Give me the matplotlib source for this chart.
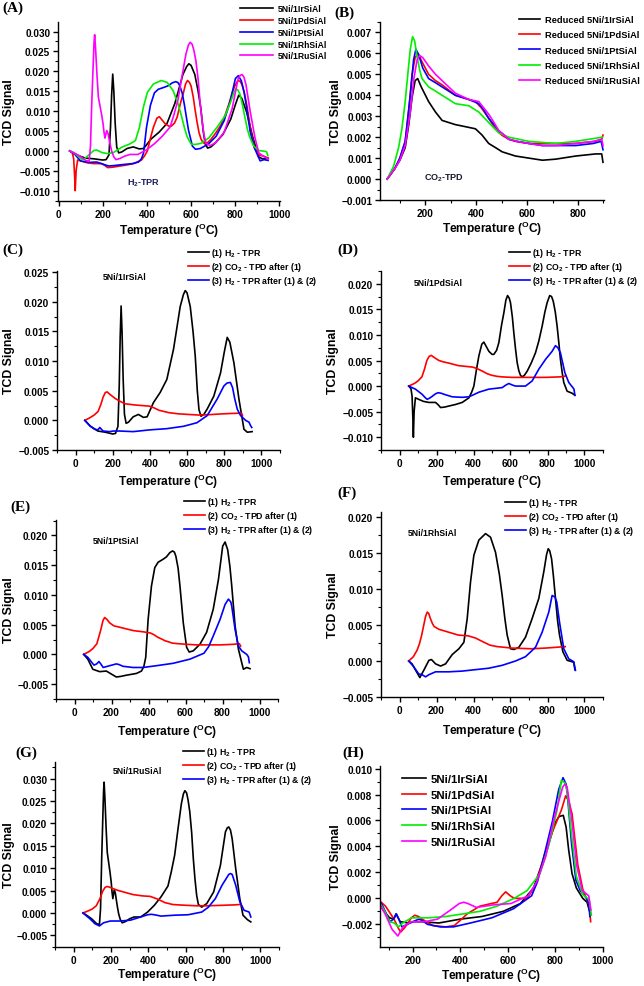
import matplotlib
matplotlib.use('Agg')
import matplotlib.pyplot as plt
from matplotlib.ticker import MultipleLocator, AutoMinorLocator, FuncFormatter

plt.rcParams['font.family'] = ['Liberation Sans', 'DejaVu Sans']
plt.rcParams['font.weight'] = 'bold'
plt.rcParams['mathtext.fontset'] = 'custom'
plt.rcParams['mathtext.rm'] = 'Liberation Sans:bold'
plt.rcParams['mathtext.bf'] = 'Liberation Sans:bold'
plt.rcParams['mathtext.it'] = 'Liberation Sans:bold'

# ---------------- data ----------------
samples = ['5Ni/1IrSiAl', '5Ni/1PdSiAl', '5Ni/1PtSiAl', '5Ni/1RhSiAl', '5Ni/1RuSiAl']
sample_colors = ['#000000', '#ff0000', '#0000ff', '#00ee00', '#ff00ff']

# (1) H2-TPR of fresh catalysts
tpr_ir_T = [50, 80, 120, 160, 200, 215, 228, 235, 240, 245, 250, 256, 263, 272, 285, 310, 338, 365, 385,
            419, 455, 491, 527, 563, 580, 590, 600, 617, 632, 644, 655, 664, 675, 690, 708, 744, 780, 800,
            816, 830, 852, 879, 906, 924, 950]
tpr_ir_s = [0, -0.001, -0.0018, -0.002, -0.0023, -0.0022, -0.001, 0.006, 0.014, 0.0193, 0.015, 0.007, 0.001,
            -0.0005, -0.0003, 0.0006, 0.001, 0.0005, 0.0006, 0.003, 0.0047, 0.0069, 0.012, 0.0192, 0.0212,
            0.0219, 0.0215, 0.0192, 0.015, 0.0108, 0.005, 0.0018, 0.0007, 0.001, 0.0019, 0.0041, 0.008,
            0.0115, 0.014, 0.0132, 0.0097, 0.0036, -0.0015, -0.002, -0.0019]

tpr_pd_T = [50, 62, 68, 72, 75, 79, 86, 104, 130, 159, 195, 210, 222, 245, 267, 303, 339, 375, 390, 402, 415,
            429, 445, 456, 468, 483, 500, 510, 525, 537, 552, 564, 575, 584, 593, 600, 610, 618, 627, 636, 645,
            654, 663, 675, 690, 712, 735, 753, 771, 786, 798, 812, 822, 831, 842, 852, 862, 870, 880, 888, 906,
            933, 948]
tpr_pd_s = [0, -0.0005, -0.002, -0.006, -0.010, -0.005, -0.0023, -0.0026, -0.003, -0.0032, -0.0032, -0.0037,
            -0.0042, -0.0041, -0.0039, -0.0036, -0.0032, -0.0023, -0.0012, 0.0, 0.003, 0.0059, 0.0082, 0.0086,
            0.0078, 0.0068, 0.0062, 0.0062, 0.007, 0.0085, 0.012, 0.0143, 0.0168, 0.0177, 0.0172, 0.0163,
            0.0135, 0.0104, 0.0073, 0.0046, 0.003, 0.0021, 0.0018, 0.0021, 0.0029, 0.0045, 0.0065, 0.0088,
            0.0117, 0.0145, 0.0163, 0.0177, 0.0175, 0.0166, 0.0145, 0.0117, 0.0082, 0.0052, 0.0025, 0.0007,
            -0.001, -0.0014, -0.0018]

tpr_pt_T = [50, 72, 99, 136, 172, 199, 226, 250, 280, 335, 362, 375, 385, 390, 398, 416, 434, 452, 479, 497,
            515, 530, 540, 548, 560, 570, 588, 606, 620, 642, 678, 714, 750, 778, 801, 814, 828, 840, 850, 868,
            886, 904, 913, 931, 949]
tpr_pt_s = [0, -0.0008, -0.0025, -0.0029, -0.0028, -0.0033, -0.0038, -0.0037, -0.0035, -0.0032, -0.0028,
            -0.002, -0.0005, 0.002, 0.0059, 0.0115, 0.0146, 0.0155, 0.016, 0.0164, 0.0171, 0.0174, 0.0172,
            0.0165, 0.0145, 0.0115, 0.0053, 0.0012, 0.0004, 0.0006, 0.0017, 0.0037, 0.0076, 0.0126, 0.0182,
            0.0189, 0.0176, 0.0148, 0.0115, 0.0048, 0.0009, -0.0014, -0.0025, -0.0022, -0.0024]

tpr_rh_T = [50, 68, 92, 110, 131, 159, 173, 195, 222, 249, 285, 321, 348, 366, 384, 402, 429, 465, 492, 519,
            540, 555, 570, 582, 600, 618, 645, 681, 717, 753, 780, 795, 804, 812, 822, 832, 843, 855, 865, 883,
            906, 933, 942, 948]
tpr_rh_s = [0, -0.0004, -0.0015, -0.0023, -0.0013, 0.0001, 0.0002, -0.0004, -0.0007, -0.0004, 0.0009, 0.0017,
            0.0026, 0.0059, 0.011, 0.0147, 0.0168, 0.0177, 0.0172, 0.0151, 0.012, 0.0091, 0.0058, 0.0036,
            0.0017, 0.0016, 0.0019, 0.0033, 0.0059, 0.0087, 0.0124, 0.0148, 0.0156, 0.0153, 0.0142, 0.0118,
            0.0087, 0.0055, 0.0036, 0.0013, 0.0001, -0.0001, -0.0002, -0.0012]

tpr_ru_T = [50, 69, 96, 123, 138, 144, 150, 156, 160, 163, 167, 174, 180, 187, 195, 201, 206, 210, 215, 218,
            223, 229, 235, 241, 250, 260, 278, 300, 323, 359, 396, 432, 468, 505, 523, 541, 559, 577, 588, 596,
            605, 613, 622, 632, 641, 650, 659, 668, 686, 713, 750, 786, 813, 823, 831, 840, 849, 868, 890, 907,
            931, 949]
tpr_ru_s = [0, -0.0005, -0.0013, -0.0024, -0.0026, 0.001, 0.012, 0.021, 0.027, 0.0292, 0.026, 0.0188, 0.0135,
            0.0114, 0.009, 0.0069, 0.0045, 0.0032, 0.0045, 0.0051, 0.0045, 0.0028, 0.0012, -0.0002, -0.0015,
            -0.0022, -0.0019, -0.0013, -0.0009, -0.0009, 0.0002, 0.0017, 0.0036, 0.006, 0.0092, 0.0129, 0.0188,
            0.0244, 0.0266, 0.0273, 0.0268, 0.0252, 0.0226, 0.018, 0.0121, 0.0075, 0.0039, 0.0019, 0.0013,
            0.0021, 0.0047, 0.0106, 0.0181, 0.019, 0.0192, 0.0185, 0.0166, 0.0099, 0.0032, -0.0005, -0.0015,
            -0.002]

# (2) CO2-TPD after (1)
co2_ir_T = [50, 80, 100, 121, 135, 148, 160, 170, 184, 213, 240, 266, 318, 358, 397, 423, 449, 476, 502, 554,
            607, 660, 712, 791, 869, 893, 898]
co2_ir_s = [0, 0.0005, 0.0009, 0.0015, 0.0026, 0.0039, 0.0047, 0.0048, 0.0044, 0.0037, 0.0032, 0.0028, 0.0026,
            0.0025, 0.0024, 0.0021, 0.0017, 0.0015, 0.0013, 0.0011, 0.001, 0.0009, 0.00095, 0.0011, 0.0012,
            0.0012, 0.0008]

co2_pd_T = [50, 80, 100, 121, 135, 148, 160, 172, 187, 213, 240, 266, 318, 371, 397, 420, 449, 475, 500, 528,
            554, 607, 660, 712, 791, 869, 893, 898]
co2_pd_s = [0, 0.0005, 0.001, 0.0018, 0.0033, 0.005, 0.0058, 0.006, 0.0056, 0.005, 0.0047, 0.0045, 0.004,
            0.0038, 0.0037, 0.0034, 0.0029, 0.0024, 0.0021, 0.0019, 0.0018, 0.0017, 0.0017, 0.0017, 0.0017,
            0.0018, 0.0019, 0.0021]

co2_pt_T = [50, 80, 100, 121, 141, 154, 163, 175, 190, 213, 240, 266, 318, 371, 410, 430, 449, 470, 489, 510,
            528, 560, 607, 660, 712, 791, 860, 891, 898]
co2_pt_s = [0, 0.0005, 0.001, 0.0018, 0.004, 0.0057, 0.0062, 0.0059, 0.0053, 0.0048, 0.0046, 0.0044, 0.004,
            0.0038, 0.0036, 0.0033, 0.0029, 0.0026, 0.0023, 0.0021, 0.0019, 0.0018, 0.0017, 0.0016, 0.0016,
            0.0016, 0.0017, 0.0018, 0.0014]

co2_rh_T = [50, 75, 95, 108, 120, 128, 141, 150, 158, 167, 178, 187, 213, 240, 266, 318, 371, 410, 449, 489,
            528, 607, 712, 791, 896]
co2_rh_s = [0, 0.0006, 0.0015, 0.0024, 0.0036, 0.0046, 0.0062, 0.0068, 0.0066, 0.0059, 0.0052, 0.0048, 0.0044,
            0.0042, 0.004, 0.0036, 0.0035, 0.0032, 0.0027, 0.0022, 0.002, 0.0018, 0.0017, 0.0018, 0.002]

co2_ru_T = [50, 80, 100, 121, 141, 155, 168, 178, 190, 213, 240, 266, 318, 371, 410, 449, 470, 489, 510, 528,
            560, 607, 660, 712, 791, 860, 893, 898]
co2_ru_s = [0, 0.0005, 0.0009, 0.0016, 0.0032, 0.0048, 0.0057, 0.0059, 0.0058, 0.0054, 0.005, 0.0047, 0.0041,
            0.0038, 0.0037, 0.0031, 0.0027, 0.0023, 0.0021, 0.0019, 0.0018, 0.0017, 0.0016, 0.0016, 0.0017,
            0.0018, 0.0019, 0.0016]

# (3) H2-TPR after (1) & (2)
rtpr_ir_T = [50, 76, 103, 121, 130, 148, 184, 202, 238, 310, 401, 491, 581, 653, 708, 762, 798, 815, 833, 845,
             856, 870, 888, 915, 933, 942, 948]
rtpr_ir_s = [0, -0.0009, -0.0015, -0.0016, -0.0012, -0.0018, -0.0019, -0.0018, -0.0018, -0.0019, -0.0016,
             -0.0014, -0.001, -0.0004, 0.0008, 0.0036, 0.0058, 0.0063, 0.0064, 0.0055, 0.0037, 0.0019, 0.0008,
             0.0, -0.0003, -0.0009, -0.0012]

rtpr_pd_T = [50, 86, 122, 140, 150, 165, 177, 195, 209, 225, 240, 285, 339, 375, 400, 429, 483, 555, 575, 591,
             610, 627, 681, 717, 753, 789, 825, 843, 856, 870, 894, 915, 937, 943, 948]
rtpr_pd_s = [0, -0.0006, -0.0016, -0.0023, -0.0026, -0.0023, -0.002, -0.0015, -0.0013, -0.0014, -0.0016,
             -0.0021, -0.0022, -0.0021, -0.0017, -0.0012, -0.0006, -0.0003, 0.0002, 0.0005, 0.0002, 0.0, 0.0,
             0.001, 0.0033, 0.0052, 0.0068, 0.0079, 0.0075, 0.0065, 0.0026, 0.0007, -0.0003, -0.0006, -0.0018]

rtpr_pt_T = [50, 72, 105, 120, 132, 142, 155, 190, 226, 240, 262, 316, 371, 443, 533, 624, 700, 725, 750, 787,
             814, 832, 845, 850, 868, 886, 904, 931, 940, 945]
rtpr_pt_s = [0, -0.0005, -0.0018, -0.0016, -0.0012, -0.0016, -0.0022, -0.0019, -0.0016, -0.0017, -0.002,
             -0.0022, -0.0022, -0.0019, -0.0015, -0.0008, 0.0002, 0.0013, 0.0031, 0.0059, 0.0084, 0.0093,
             0.0088, 0.0081, 0.0042, 0.0014, 0.0006, 0.0, -0.0004, -0.0014]

rtpr_rh_T = [50, 77, 104, 122, 141, 159, 195, 267, 339, 411, 483, 555, 627, 681, 735, 771, 807, 825, 840, 850,
             865, 888, 915, 942, 951]
rtpr_rh_s = [0, -0.0008, -0.0018, -0.0019, -0.0022, -0.0019, -0.0015, -0.0015, -0.0014, -0.0012, -0.001,
             -0.0006, 0.0, 0.0006, 0.0019, 0.004, 0.0068, 0.0091, 0.0089, 0.0082, 0.0054, 0.0017, 0.0003,
             -0.0001, -0.0013]

rtpr_ru_T = [50, 87, 114, 138, 160, 196, 250, 305, 359, 396, 415, 432, 468, 541, 613, 686, 722, 759, 795, 831,
             840, 849, 868, 890, 913, 940, 949]
rtpr_ru_s = [0, -0.0013, -0.0024, -0.0029, -0.0022, -0.0018, -0.0018, -0.0016, -0.0009, -0.0004, -0.0003,
             -0.0004, -0.0007, -0.0005, -0.0004, 0.0002, 0.0013, 0.0032, 0.0062, 0.0086, 0.0088, 0.0086, 0.0062,
             0.0025, 0.0006, 0.0002, -0.0009]

tpr_T = [tpr_ir_T, tpr_pd_T, tpr_pt_T, tpr_rh_T, tpr_ru_T]
tpr_s = [tpr_ir_s, tpr_pd_s, tpr_pt_s, tpr_rh_s, tpr_ru_s]
co2_T = [co2_ir_T, co2_pd_T, co2_pt_T, co2_rh_T, co2_ru_T]
co2_s = [co2_ir_s, co2_pd_s, co2_pt_s, co2_rh_s, co2_ru_s]
rtpr_T = [rtpr_ir_T, rtpr_pd_T, rtpr_pt_T, rtpr_rh_T, rtpr_ru_T]
rtpr_s = [rtpr_ir_s, rtpr_pd_s, rtpr_pt_s, rtpr_rh_s, rtpr_ru_s]

step_labels = ['(1) H$_2$ - TPR', '(2) CO$_2$ - TPD after (1)', '(3) H$_2$ - TPR after (1) & (2)']
step_colors = ['#000000', '#ff0000', '#0000ff']

# ---------------- figure ----------------
W, H = 644, 987
fig = plt.figure(figsize=(W / 100, H / 100), dpi=100)


def make_ax(l, r, t, b):
    return fig.add_axes([l / W, 1 - b / H, (r - l) / W, (b - t) / H])


def fmt(v, pos):
    s = '%.3f' % abs(v)
    if v < -1e-9:
        return '\u2212' + s
    return s


def style(ax, xlim, ylim, xmaj, ymaj, xlabel_top, panel, pxy):
    ax.set_xlim(*xlim)
    ax.set_ylim(*ylim)
    ax.xaxis.set_major_locator(MultipleLocator(xmaj))
    ax.yaxis.set_major_locator(MultipleLocator(ymaj))
    ax.xaxis.set_minor_locator(AutoMinorLocator(2))
    ax.yaxis.set_minor_locator(AutoMinorLocator(2))
    ax.yaxis.set_major_formatter(FuncFormatter(fmt))
    for sp in ['top', 'right']:
        ax.spines[sp].set_visible(False)
    for sp in ['left', 'bottom']:
        ax.spines[sp].set_linewidth(1.0)
    ax.tick_params(which='major', direction='out', length=3.5, width=1.0, labelsize=7.2, pad=2)
    ax.tick_params(which='minor', direction='out', length=2, width=0.8)
    for lab in ax.get_xticklabels() + ax.get_yticklabels():
        lab.set_fontweight('bold')
    ax.set_ylabel('TCD Signal', fontsize=8.8, fontweight='bold')
    ax.set_xlabel('Temperature ($^{O}$C)', fontsize=8.6, fontweight='bold')
    bb = ax.get_position()
    ax.xaxis.set_label_coords((bb.x0 + bb.x1) / 2, 1 - xlabel_top / H, transform=fig.transFigure)
    fig.text(pxy[0] / W, 1 - pxy[1] / H, panel, fontsize=11, fontweight='bold',
             family=['Liberation Serif', 'DejaVu Serif'], ha='left', va='top')


def set_ylabel_x(ax, xpx):
    # xpx: right edge (in figure pixels) of the rotated y label
    bb = ax.get_position()
    ax.yaxis.set_label_coords(xpx / W, (bb.y0 + bb.y1) / 2, transform=fig.transFigure)


def leg(ax, handles_labels, x, y, fs, hl, htp, ls):
    h, l = handles_labels
    ax.legend(h, l, loc='upper left', bbox_to_anchor=(x / W, 1 - y / H), bbox_transform=fig.transFigure,
              frameon=False, handlelength=hl, handletextpad=htp, labelspacing=ls,
              borderpad=0, borderaxespad=0, prop={'weight': 'bold', 'size': fs})


# (A)
axA = make_ax(58, 280, 23, 202)
hs = []
for i in range(5):
    ln, = axA.plot(tpr_T[i], tpr_s[i], color=sample_colors[i], lw=1.2)
    hs.append(ln)
style(axA, (-3, 1003), (-0.0126, 0.0324), 200, 0.005, 222, '(A)', (2, 2))
set_ylabel_x(axA, 15)
axA.text(127 / W, 1 - 183 / H, 'H$_2$-TPR', transform=fig.transFigure, fontsize=6.5, fontweight='bold',
         color='#1c1c5e', ha='left', va='center')
leg(axA, (hs, samples), 240, 5, 6.2, 3.8, 0.6, 0.33)

# (B)
axB = make_ax(380, 604, 23, 201)
hs = []
for i in range(5):
    ln, = axB.plot(co2_T[i], co2_s[i], color=sample_colors[i], lw=1.2)
    hs.append(ln)
style(axB, (22, 902), (-0.001, 0.0075), 200, 0.001, 220, '(B)', (334, 7))
set_ylabel_x(axB, 342)
axB.text(424 / W, 1 - 178 / H, 'CO$_2$-TPD', transform=fig.transFigure, fontsize=6.5, fontweight='bold',
         color='#1a1a2e', ha='left', va='center')
leg(axB, (hs, ['Reduced ' + s for s in samples]), 519, 16, 6.7, 2.3, 0.45, 0.68)

# (C)-(G)
panels = [
    # idx, l, r, t, b, ylim, xlabel_top, letter, letter_xy, ylab_x, name_xy, legend_xy
    (0, 57, 280, 272, 451, (-0.005, 0.0252), 473, '(C)', (2, 244), 15, (103, 278), (188, 247)),
    (1, 381, 603, 272, 451, (-0.0125, 0.0225), 473, '(D)', (337, 244), 339, (414, 283), (509, 247)),
    (2, 56, 278, 521, 700, (-0.0075, 0.0226), 723, '(E)', (10, 501), 15, (93, 542), (184, 496)),
    (3, 381, 603, 513, 698, (-0.005, 0.0207), 722, '(F)', (337, 487), 339, (408, 534), (505, 497)),
    (4, 55, 279, 763, 948, (-0.0076, 0.0337), 966, '(G)', (15, 747), 15, (113, 772), (183, 746)),
]
for idx, l, r, t, b, ylim, xlt, letter, lxy, ylx, nxy, lgxy in panels:
    ax = make_ax(l, r, t, b)
    hs = []
    ln, = ax.plot(tpr_T[idx], tpr_s[idx], color=step_colors[0], lw=1.2)
    hs.append(ln)
    ln, = ax.plot(co2_T[idx], co2_s[idx], color=step_colors[1], lw=1.2)
    hs.append(ln)
    ln, = ax.plot(rtpr_T[idx], rtpr_s[idx], color=step_colors[2], lw=1.2)
    hs.append(ln)
    style(ax, (-100, 1100), ylim, 200, 0.005, xlt, letter, lxy)
    set_ylabel_x(ax, ylx)
    ax.text(nxy[0] / W, 1 - nxy[1] / H, samples[idx], transform=fig.transFigure, fontsize=6.2,
            fontweight='bold', ha='left', va='center')
    leg(ax, (hs, step_labels), lgxy[0], lgxy[1], 6.3, 2.4, 0.2, 0.1)

# (H)
axH = make_ax(380, 603, 767, 948)
hs = []
for i in range(5):
    ln, = axH.plot(rtpr_T[i], rtpr_s[i], color=sample_colors[i], lw=1.2)
    hs.append(ln)
style(axH, (63, 1000), (-0.00375, 0.0102), 200, 0.002, 967, '(H)', (342, 747))
set_ylabel_x(axH, 342)
leg(axH, (hs, samples), 402, 775, 8.2, 2.1, 0.45, 0.5)

fig.savefig('out.png', dpi=100)
